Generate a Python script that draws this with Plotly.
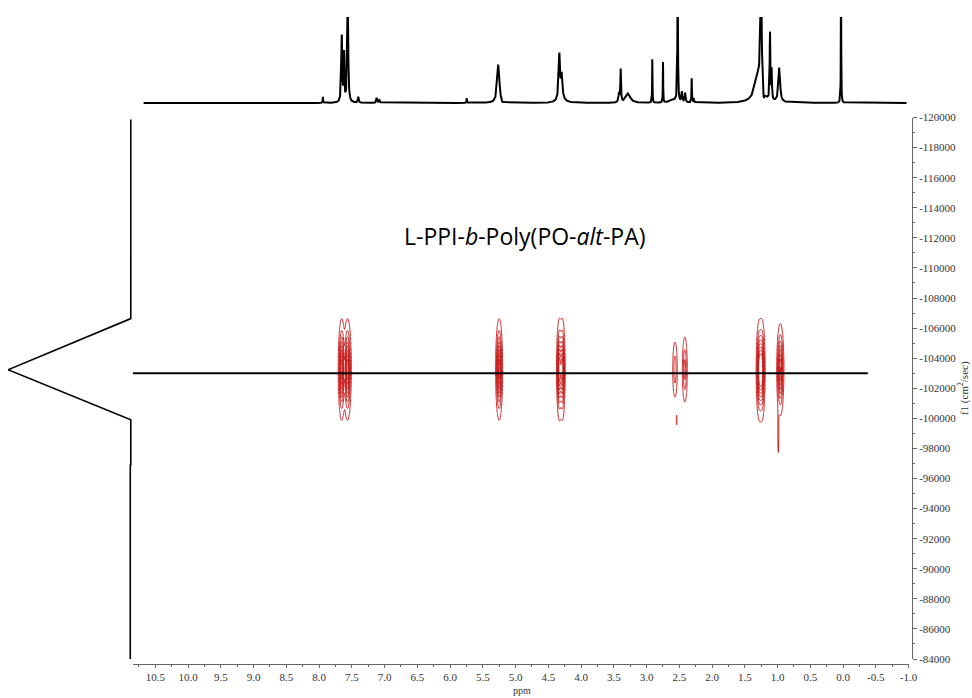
import numpy as np
import plotly.graph_objects as go

# ---------------- data ----------------
# 1D 1H spectrum (top projection): peak positions (ppm), heights (rel.), half-widths (ppm)
spec_ppm    = [7.94, 7.653, 7.618, 7.562, 7.40, 7.12, 7.08, 5.745, 5.263, 5.20, 4.331, 4.295, 4.30,
               3.42, 3.394, 3.28, 2.911, 2.748, 2.60, 2.524, 2.46, 2.41, 2.31, 2.28,
               1.30, 1.252, 1.21, 1.115, 1.09, 0.973, 0.03]
spec_height = [0.07, 0.78, 0.55, 1.40, 0.07, 0.06, 0.04, 0.06, 0.45, -0.03, 0.52, 0.25, 0.06,
               0.10, 0.38, 0.11, 0.56, 0.47, 0.04, 1.50, 0.12, 0.11, 0.28, 0.05,
               0.30, 1.60, -0.12, 0.80, 0.35, 0.40, 1.60]
spec_hwhm   = [0.004, 0.008, 0.006, 0.008, 0.008, 0.008, 0.008, 0.004, 0.020, 0.02, 0.012, 0.012, 0.05,
               0.008, 0.006, 0.040, 0.003, 0.003, 0.05, 0.005, 0.008, 0.008, 0.004, 0.006,
               0.060, 0.010, 0.010, 0.005, 0.006, 0.015, 0.003]
spec_range  = [10.68, -0.97]

# DOSY 2D peaks: chemical shift (ppm), diffusion coordinate, widths, amplitude, cluster id
dosy_ppm   = [7.653, 7.565, 5.250, 4.330, 4.285, 2.565, 2.540, 2.415, 1.277, 1.237, 0.957, 0.988]
dosy_D     = [-103250, -103250, -103250, -103250, -103250, -103240, -99890, -103240,
              -103200, -103200, -103230, -99000]
dosy_sx    = [0.022, 0.024, 0.022, 0.018, 0.018, 0.0195, 0.006, 0.019, 0.020, 0.020, 0.023, 0.007]
dosy_sy    = [1380, 1380, 1380, 1380, 1380, 1020, 400, 1095, 1360, 1360, 1275, 1320]
dosy_amp   = [1.0, 1.0, 1.0, 1.0, 1.0, 0.25, 0.07, 0.35, 1.0, 1.0, 0.9, 0.08]
dosy_group = [0, 0, 1, 2, 2, 3, 4, 5, 6, 6, 7, 7]

# diffusion fit line (horizontal) and left projection
fit_D = -103000
fit_ppm = [10.84, -0.38]
proj_D   = [-119870, -106630, -103230, -99900, -96900, -96900, -84000]
proj_int = [0.0, 0.0, 1.0, 0.0, 0.0, 0.004, 0.004]

# tick labels
x_tickvals = [10.5, 10.0, 9.5, 9.0, 8.5, 8.0, 7.5, 7.0, 6.5, 6.0, 5.5, 5.0, 4.5, 4.0, 3.5,
              3.0, 2.5, 2.0, 1.5, 1.0, 0.5, 0.0, -0.5, -1.0]
x_ticktext = ["10.5", "10.0", "9.5", "9.0", "8.5", "8.0", "7.5", "7.0", "6.5", "6.0", "5.5", "5.0",
              "4.5", "4.0", "3.5", "3.0", "2.5", "2.0", "1.5", "1.0", "0.5", "0.0", "-0.5", "-1.0"]
y_tickvals = list(range(-120000, -83999, 2000))
y_ticktext = ["-%d" % (-v) for v in y_tickvals]

title_text = "L-PPI-<i>b</i>-Poly(PO-<i>alt</i>-PA)"
x_title = "ppm"
y_title = "f1 (cm<sup>2</sup>/sec)"

# ---------------- figure ----------------
W, H = 972, 698
def px_x(p): return p / W
def px_y(p): return (H - p) / H

fig = go.Figure()

# top 1D spectrum
xs = np.arange(spec_range[1], spec_range[0], 0.002)
ys = np.zeros_like(xs)
for p, h, w in zip(spec_ppm, spec_height, spec_hwhm):
    ys += h / (1 + ((xs - p) / w) ** 2)
fig.add_trace(go.Scatter(x=xs, y=ys, mode="lines", line=dict(color="black", width=2),
                         xaxis="x3", yaxis="y3", hoverinfo="skip", showlegend=False))

# 2D contours
red = "#c81e1e"
groups = sorted(set(dosy_group))
for g in groups:
    idx = [i for i, gg in enumerate(dosy_group) if gg == g]
    xmin = min(dosy_ppm[i] - 4 * dosy_sx[i] for i in idx)
    xmax = max(dosy_ppm[i] + 4 * dosy_sx[i] for i in idx)
    ymin = min(dosy_D[i] - 4 * dosy_sy[i] for i in idx)
    ymax = max(dosy_D[i] + 4 * dosy_sy[i] for i in idx)
    gx = np.linspace(xmin, xmax, 81)
    gy = np.linspace(ymin, ymax, 121)
    X, Y = np.meshgrid(gx, gy)
    Z = np.zeros_like(X)
    for i in idx:
        Z += dosy_amp[i] * np.exp(-0.5 * ((X - dosy_ppm[i]) / dosy_sx[i]) ** 2
                                  - 0.5 * ((Y - dosy_D[i]) / dosy_sy[i]) ** 2)
    fig.add_trace(go.Contour(x=gx, y=gy, z=Z, xaxis="x", yaxis="y",
                             contours=dict(coloring="lines", start=0.05, end=0.95, size=0.12),
                             colorscale=[[0, red], [1, red]], line=dict(width=1),
                             showscale=False, hoverinfo="skip"))

# horizontal diffusion line
fig.add_trace(go.Scatter(x=fit_ppm, y=[fit_D, fit_D], mode="lines",
                         line=dict(color="black", width=2), xaxis="x", yaxis="y",
                         hoverinfo="skip", showlegend=False))

# left projection
fig.add_trace(go.Scatter(x=proj_int, y=proj_D, mode="lines",
                         line=dict(color="black", width=1.6), xaxis="x2", yaxis="y",
                         hoverinfo="skip", showlegend=False))

serif = "Liberation Serif, Times New Roman, serif"
axis_font = dict(family=serif, size=11, color="#333")
axcol = "#666"

fig.update_layout(
    width=W, height=H, margin=dict(l=0, r=0, t=0, b=0, pad=0, autoexpand=False),
    paper_bgcolor="white", plot_bgcolor="rgba(0,0,0,0)", showlegend=False,
    xaxis=dict(domain=[px_x(133), px_x(908.5)], range=[10.84, -1.0], anchor="free",
               position=34 / H, showgrid=False, zeroline=False, showline=True, automargin=False,
               linecolor=axcol, linewidth=1, ticks="outside", ticklen=3, tickwidth=1,
               tickcolor=axcol, tickvals=x_tickvals, ticktext=x_ticktext, tickfont=axis_font,
               minor=dict(dtick=0.25, tick0=0, ticks="outside", ticklen=2, tickcolor=axcol)),
    yaxis=dict(domain=[px_y(659), px_y(117.5)], range=[-84000, -120000], side="right",
               anchor="free", position=912 / W, showgrid=False, zeroline=False, showline=True,
               automargin=False,
               linecolor=axcol, linewidth=1, ticks="outside", ticklen=4, tickwidth=1,
               tickcolor=axcol, tickvals=y_tickvals, ticktext=y_ticktext, tickfont=axis_font,
               minor=dict(dtick=1000, tick0=0, ticks="outside", ticklen=2, tickcolor=axcol),
               title=dict(text=y_title, font=dict(family=serif, size=11, color="#333"),
                          standoff=0)),
    xaxis2=dict(domain=[px_x(8), px_x(132)], range=[1.0, -0.01], anchor="y", visible=False,
                automargin=False),
    xaxis3=dict(domain=[px_x(133), px_x(908.5)], range=[10.84, -1.0], anchor="y3", visible=False,
                automargin=False),
    yaxis3=dict(domain=[px_y(110), px_y(17)], range=[-0.081, 1.0], anchor="x3", visible=False,
                automargin=False),
    annotations=[
        dict(text=title_text, x=px_x(525), y=px_y(236), xref="paper", yref="paper",
             showarrow=False, xanchor="center", yanchor="middle",
             font=dict(family="Open Sans, sans-serif", size=23, color="black")),
        dict(text=x_title, x=px_x(522), y=px_y(690), xref="paper", yref="paper",
             showarrow=False, xanchor="center", yanchor="middle",
             font=dict(family=serif, size=10, color="#333")),
    ],
)

fig.write_html("out.html")
